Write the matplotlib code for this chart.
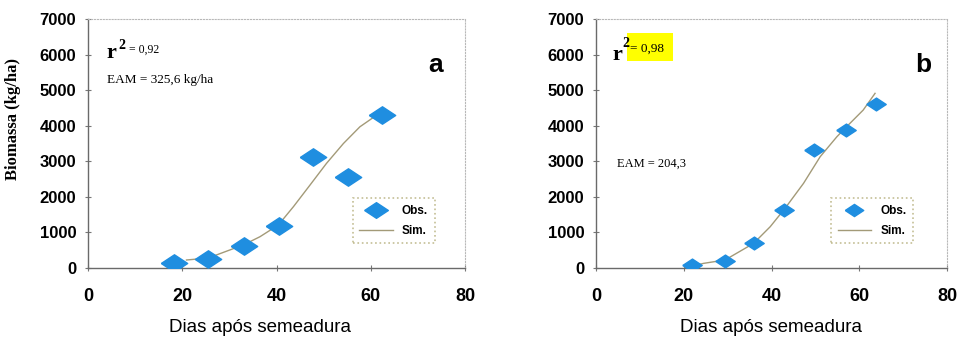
import matplotlib
matplotlib.use("Agg")
import matplotlib.pyplot as plt
from matplotlib.patches import Rectangle

# ---- data ----
obs_days_a = [18.2, 25.5, 33.1, 40.6, 47.7, 55.2, 62.4]
obs_bio_a = [150, 265, 625, 1190, 3130, 2565, 4315]
sim_days_a = [20.9, 25.5, 33.0, 36.5, 40.4, 43.6, 47.1, 50.6, 54.2, 57.7, 62.6]
sim_bio_a = [225, 280, 650, 880, 1210, 1725, 2330, 2940, 3500, 3970, 4420]

obs_days_b = [21.8, 29.4, 35.9, 42.9, 49.7, 56.9, 63.8]
obs_bio_b = [75, 190, 715, 1640, 3310, 3875, 4605]
sim_days_b = [20.3, 24.5, 29.4, 35.9, 39.7, 43.1, 47.3, 51.1, 54.9, 57.1, 60.9, 63.6]
sim_bio_b = [0, 130, 225, 690, 1160, 1680, 2380, 3130, 3690, 3970, 4440, 4910]

xticks = [0, 20, 40, 60, 80]
yticks = [0, 1000, 2000, 3000, 4000, 5000, 6000, 7000]

panels = [
    dict(od=obs_days_a, ob=obs_bio_a, sd=sim_days_a, sb=sim_bio_a, letter="a",
         r2="0,92", eam="EAM = 325,6 kg/ha"),
    dict(od=obs_days_b, ob=obs_bio_b, sd=sim_days_b, sb=sim_bio_b, letter="b",
         r2="0,98", eam="EAM = 204,3"),
]

W, H = 960, 340
fig = plt.figure(figsize=(W / 100, H / 100), dpi=100)

rects = [(88, 19, 465, 268), (596, 19, 947, 268)]
blue = "#1f8ee0"
line_col = "#a39a78"
diamond = [(-1, 0), (0, 0.66), (1, 0), (0, -0.66), (-1, 0)]
sans = "Liberation Sans"
serif = "Liberation Serif"

for i, (p, (x0, y0, x1, y1)) in enumerate(zip(panels, rects)):
    ax = fig.add_axes([x0 / W, 1 - y1 / H, (x1 - x0) / W, (y1 - y0) / H])
    ax.set_xlim(0, 80)
    ax.set_ylim(0, 7000)
    ax.set_xticks(xticks)
    ax.set_yticks(yticks)
    ax.set_xticklabels([str(t) for t in xticks], fontfamily=sans, fontweight="bold", fontsize=13)
    ax.set_yticklabels([str(t) for t in yticks], fontfamily=sans, fontweight="bold", fontsize=12)
    ax.tick_params(direction="inout", length=5, width=0.8, color="#777777")
    ax.tick_params(axis="x", pad=12)
    ax.tick_params(axis="y", pad=6)
    for s in ["left", "bottom"]:
        ax.spines[s].set_color("#6a6a6a")
        ax.spines[s].set_linewidth(1.0)
    for s in ["top", "right"]:
        ax.spines[s].set_color("#b8b8b8")
        ax.spines[s].set_linewidth(0.8)
        ax.spines[s].set_linestyle(":")

    ms = 19 if i == 0 else 14
    ax.plot(p["sd"], p["sb"], color=line_col, lw=1.0, label="Sim.", zorder=2)
    ax.plot(p["od"], p["ob"], linestyle="none", marker=diamond, markersize=ms,
            color=blue, markeredgecolor=blue, label="Obs.", zorder=3)

    handles, labels = ax.get_legend_handles_labels()
    leg = ax.legend(handles[::-1], labels[::-1], loc="lower right",
                    bbox_to_anchor=(0.935, 0.075) if i == 0 else (0.92, 0.075),
                    prop=dict(family=sans, weight="bold", size=8.5),
                    frameon=True, fancybox=False, borderpad=0.55, labelspacing=0.7,
                    handlelength=2.8, markerscale=0.9 if i == 0 else 0.95)
    fr = leg.get_frame()
    fr.set_edgecolor("#b5ae7a")
    fr.set_linestyle(":")
    fr.set_linewidth(1.2)

    ax.set_xlabel("Dias após semeadura", fontfamily=sans, fontsize=13.5)
    if i == 0:
        ax.xaxis.set_label_coords(0.456, -0.205)
    else:
        ax.xaxis.set_label_coords(0.5, -0.205)

    ax.text(0.94 if i == 0 else 0.955, 0.815, p["letter"], transform=ax.transAxes,
            ha="right", va="center", fontfamily=sans, fontweight="bold", fontsize=19)

    if i == 0:
        ax.set_ylabel("Biomassa (kg/ha)", fontfamily=serif, fontweight="bold", fontsize=12)
        ax.yaxis.set_label_coords(-0.178, 0.6)
        ax.text(0.05, 0.865, "r", transform=ax.transAxes, fontfamily=serif,
                fontweight="bold", fontsize=16, va="center")
        ax.text(0.08, 0.895, "2", transform=ax.transAxes, fontfamily=serif,
                fontweight="bold", fontsize=10, va="center")
        ax.text(0.11, 0.875, "= " + p["r2"], transform=ax.transAxes, fontfamily=serif,
                fontsize=8.5, va="center")
        ax.text(0.05, 0.755, p["eam"], transform=ax.transAxes, fontfamily=serif,
                fontsize=9.5, va="center")
    else:
        ax.add_patch(Rectangle((0.088, 0.83), 0.132, 0.115, transform=ax.transAxes,
                               facecolor="#ffff00", edgecolor="none", zorder=1))
        ax.text(0.048, 0.855, "r", transform=ax.transAxes, fontfamily=serif,
                fontweight="bold", fontsize=16, va="center", zorder=4)
        ax.text(0.074, 0.9, "2", transform=ax.transAxes, fontfamily=serif,
                fontweight="bold", fontsize=10, va="center", zorder=4)
        ax.text(0.097, 0.88, "= " + p["r2"], transform=ax.transAxes, fontfamily=serif,
                fontsize=9.5, va="center", zorder=4)
        ax.text(0.06, 0.42, p["eam"], transform=ax.transAxes, fontfamily=serif,
                fontsize=9, va="center")

fig.savefig("out.png", dpi=100, facecolor="white")
